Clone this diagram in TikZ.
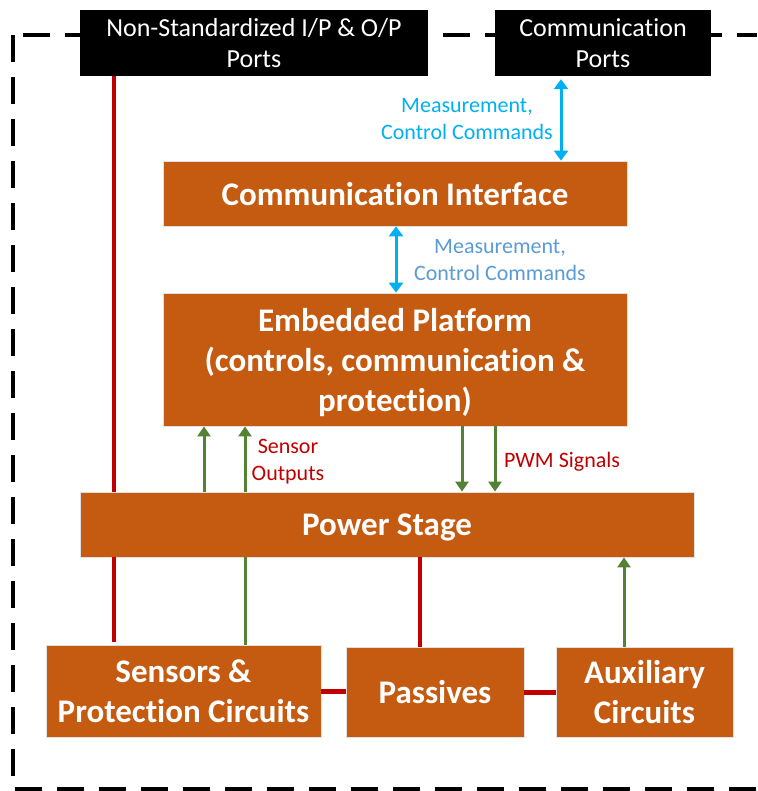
\documentclass[tikz,border=0pt]{standalone}
\usepackage{fontspec}
\setmainfont{Carlito}[Ligatures=NoCommon]
\usetikzlibrary{arrows.meta}
\definecolor{boxorange}{HTML}{C55A11}
\definecolor{linkred}{HTML}{C00000}
\definecolor{siggreen}{HTML}{548235}
\definecolor{commblue}{HTML}{00B0F0}
\definecolor{softblue}{HTML}{5B9BD5}

\begin{document}
\begin{tikzpicture}[x=1pt,y=-1pt,
  block/.style={fill=boxorange, draw=black!12, line width=0.8pt, text=white,
    font=\bfseries\fontsize{33}{40}\selectfont, align=center, inner sep=0pt,
    text depth=0pt},
  port/.style={fill=black, text=white, font=\fontsize{26}{31}\selectfont,
    align=center, inner sep=0pt},
  lbl/.style={font=\fontsize{22}{27}\selectfont, align=center, inner sep=0pt,
    text depth=0pt},
  border/.style={line width=3.8pt, dash pattern=on 27pt off 15pt},
  powerline/.style={linkred, line width=3.5pt},
  busline/.style={linkred, line width=5pt},
  sigline/.style={siggreen, line width=3pt},
  sigarrow/.style={siggreen, line width=3pt, -{Triangle[width=13pt,length=10pt]}},
  commarrow/.style={commblue, line width=3pt,
    {Triangle[width=14pt,length=10pt]}-{Triangle[width=14pt,length=10pt]}},
]
\useasboundingbox (0,0) rectangle (757,791);

% enclosure of the converter
\draw[border] (23,35) -- (757,35);
\draw[border] (13,35) -- (13,789) -- (757,789);

% ports on the enclosure
\node[port, minimum width=348pt, minimum height=66pt] (nonstd) at (254,43)
  {Non-Standardized I/P \& O/P\\Ports};
\node[port, minimum width=216pt, minimum height=66pt] (commports) at (603,43)
  {Communication\\Ports};

% functional blocks
\node[block, minimum width=464pt, minimum height=65pt] (commif) at (395,193.5)
  {Communication Interface};
\node[block, minimum width=464pt, minimum height=133pt] (embedded) at (395,359.5)
  {Embedded Platform\\(controls, communication \&\\protection)};
\node[block, minimum width=614pt, minimum height=65pt] (power) at (387,524.5)
  {Power Stage};
\node[block, minimum width=275pt, minimum height=92pt] (sensors) at (183.5,691)
  {Sensors \&\\Protection Circuits};
\node[block, minimum width=178pt, minimum height=90pt] (passives) at (435,692)
  {Passives};
\node[block, minimum width=177pt, minimum height=90pt] (aux) at (644.5,692)
  {Auxiliary\\Circuits};

% communication links
\draw[commarrow, shorten <=3pt] ([xshift=-42pt]commports.south)
  -- ([xshift=-42pt]commports.south |- commif.north);
\draw[commarrow] ([xshift=1pt]commif.south)
  -- ([xshift=1pt]commif.south |- embedded.north);
\node[lbl, text=commblue] (measA) at (467,118.5) {Measurement,\\Control Commands};
\node[lbl, text=softblue] (measB) at (500,259.5) {Measurement,\\Control Commands};

% power paths
\draw[powerline] ([xshift=-140pt]nonstd.south)
  -- ([xshift=-140pt]nonstd.south |- power.north);
\draw[powerline, shorten >=3pt] ([xshift=-69.5pt]sensors.north |- power.south)
  -- ([xshift=-69.5pt]sensors.north);
\draw[powerline] ([xshift=-15pt]passives.north |- power.south)
  -- ([xshift=-15pt]passives.north);
\draw[busline] (sensors.east) -- (sensors.east -| passives.west);
\draw[busline] (passives.east) -- (aux.west);

% signal paths
\draw[sigarrow] ([xshift=-183pt]power.north)
  -- ([xshift=-183pt]power.north |- embedded.south);
\draw[sigarrow] ([xshift=-142pt]power.north)
  -- ([xshift=-142pt]power.north |- embedded.south);
\draw[sigarrow] ([xshift=67pt]embedded.south)
  -- ([xshift=67pt]embedded.south |- power.north);
\draw[sigarrow] ([xshift=100pt]embedded.south)
  -- ([xshift=100pt]embedded.south |- power.north);
\draw[sigline] ([xshift=61.5pt]sensors.north |- power.south)
  -- ([xshift=61.5pt]sensors.north);
\draw[sigarrow] ([xshift=-20.5pt]aux.north)
  -- ([xshift=-20.5pt]aux.north |- power.south);
\node[lbl, text=linkred] (sensout) at (288,459.5) {Sensor\\Outputs};
\node[lbl, text=linkred] (pwm) at (562,460) {PWM Signals};
\end{tikzpicture}
\end{document}
